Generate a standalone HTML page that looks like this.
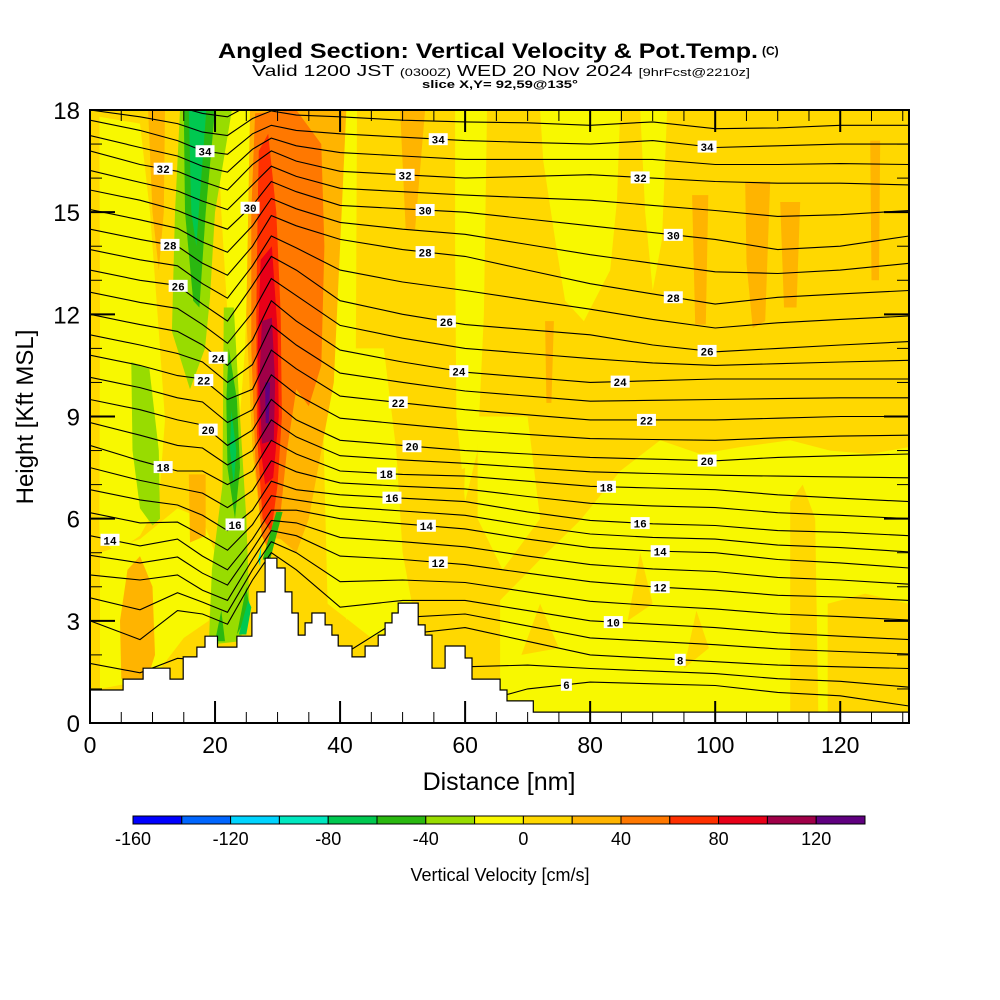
<!DOCTYPE html>
<html><head><meta charset="utf-8"><style>
html,body{margin:0;padding:0;background:#fff;}
svg{display:block;font-family:"Liberation Sans",sans-serif;}
</style></head><body>
<svg id="chart" width="1000" height="1000" viewBox="0 0 1000 1000" xmlns="http://www.w3.org/2000/svg">
<defs><clipPath id="plotclip"><rect x="90" y="110" width="819" height="613"/></clipPath></defs>
<g>
<text x="218" y="58" font-size="21" font-weight="bold" textLength="540" lengthAdjust="spacingAndGlyphs">Angled Section: Vertical Velocity &amp; Pot.Temp.</text>
<text x="762" y="55" font-size="12" font-weight="bold">(C)</text>
<text x="252" y="76" font-size="16" textLength="498" lengthAdjust="spacingAndGlyphs">Valid 1200 JST <tspan font-size="11">(0300Z)</tspan> WED 20 Nov 2024 <tspan font-size="11">[9hrFcst@2210z]</tspan></text>
<text x="422" y="88" font-size="11" font-weight="bold" textLength="156" lengthAdjust="spacingAndGlyphs">slice X,Y= 92,59@135°</text>
</g>
<rect x="90" y="110" width="819" height="613" fill="#ffd800"/>
<g id="field" clip-path="url(#plotclip)"></g>
<g id="contours" clip-path="url(#plotclip)"></g>
<g id="terrain" clip-path="url(#plotclip)"></g>
<g id="clabels" clip-path="url(#plotclip)"></g>
<rect x="90" y="110" width="819" height="613" fill="none" stroke="#000" stroke-width="2"/>
<g id="axes"></g>
<text x="499" y="790" font-size="25" text-anchor="middle">Distance [nm]</text>
<text x="0" y="0" font-size="24" text-anchor="middle" transform="translate(33,417) rotate(-90)">Height [Kft MSL]</text>
<g id="colorbar"></g>
<text x="500" y="881" font-size="18" text-anchor="middle">Vertical Velocity [cm/s]</text>
</svg>
<script>
const NS='http://www.w3.org/2000/svg';
// ---- data ----
const gridDist=[0,8,14,18,22,26,29,33,40,50,60,70,80,90,100,110,120,131];
const thetaLevels=[36,34,32,30,28,26,24,22,20,18,16,14,12,10,8,6];
const theta36=[18.3,18.2,18.1,17.9,17.8,18.2,18.4,18.3,18.3,18.2,18.2,18.2,18.1,18.2,18.0,18.0,18.1,18.1];
const theta34=[17.7,17.4,17.1,16.8,16.7,17.3,17.55,17.4,17.3,17.2,17.1,17.05,17.0,17.1,16.9,16.95,17.0,17.0];
const theta32=[16.8,16.4,16.2,15.9,15.65,16.4,16.8,16.5,16.2,16.1,16.0,16.05,16.1,16.0,15.9,15.85,15.85,15.8];
const theta30=[15.65,15.35,15.05,14.75,14.5,15.2,15.9,15.6,15.2,15.1,15.0,14.8,14.6,14.4,14.2,13.9,14.0,14.3];
const theta28=[14.5,14.2,14.0,13.5,13.15,14.0,14.9,14.6,14.2,13.9,13.7,13.3,12.9,12.6,12.3,12.5,12.6,12.7];
const theta26=[13.3,13.0,12.85,12.3,11.8,12.85,13.7,13.3,12.4,12.0,11.7,11.55,11.4,11.1,10.9,11.0,11.1,11.2];
const theta24=[12.0,11.7,11.5,11.1,10.5,11.25,12.4,11.8,10.95,10.6,10.3,10.15,10.0,10.05,10.1,10.1,10.1,10.1];
const theta22=[10.8,10.5,10.2,10.1,9.5,9.8,10.95,10.4,9.6,9.4,9.2,9.05,8.9,8.9,8.9,8.95,9.0,9.0];
const theta20=[9.5,9.2,8.9,8.75,8.15,8.6,9.5,8.9,8.3,8.15,8.0,7.9,7.8,7.75,7.7,7.8,7.85,7.9];
const theta18=[8.15,7.7,7.4,7.4,7.0,7.4,8.3,7.9,7.4,7.3,7.25,7.1,6.95,6.9,6.85,6.7,6.6,6.5];
const theta16=[6.85,6.55,6.4,6.1,5.65,6.25,7.1,6.85,6.7,6.6,6.5,6.2,5.95,5.85,5.8,5.65,5.6,5.5];
const theta14=[5.5,5.2,5.4,4.9,4.5,5.4,6.25,6.25,6.0,5.85,5.7,5.4,5.15,5.05,5.0,4.8,4.7,4.55];
const theta12=[4.35,4.2,4.35,3.9,3.6,4.8,5.65,5.5,4.9,4.8,4.65,4.4,4.15,4.0,3.9,3.75,3.7,3.6];
const theta10=[3.0,2.45,3.3,3.2,2.9,4.2,5.0,4.5,3.4,3.6,3.6,3.3,3.0,2.9,2.8,2.65,2.55,2.45];
const theta8=[0.5,0.5,0.5,0.5,0.5,0.5,0.5,0.5,0.5,2.6,2.8,2.4,2.0,1.9,1.8,1.7,1.65,1.6];
const theta6=[0.2,0.2,0.2,0.2,0.2,0.2,0.2,0.2,0.2,0.2,0.5,1.0,1.2,1.15,1.1,0.9,0.8,0.5];
const thetaHeights=[theta36,theta34,theta32,theta30,theta28,theta26,theta24,theta22,theta20,theta18,theta16,theta14,theta12,theta10,theta8,theta6];
// contour label placements: [level, distance]
const labelLevels=[34,32,30,28,26,24,22,20,18,16,14,34,32,30,28,26,24,22,20,18,16,14,12,34,32,30,28,26,24,22,20,18,16,14,12,10,8,6];
const labelDists=[18.4,11.7,25.6,12.8,14.1,20.5,18.2,18.9,11.7,23.2,3.2,55.7,50.4,53.6,53.6,57,59,49.3,51.5,47.4,48.3,53.8,55.7,98.7,88,93.3,93.3,98.7,84.8,89,98.7,82.6,88,91.2,91.2,83.7,94.4,76.2];
// terrain: step start distance (nm) and height (kft)
const terrainDist=[0,5.3,8.5,12.8,14.9,17.1,18.4,20.4,23.5,25.9,26.7,28,29.9,31.2,32.3,33.3,34.4,35.5,37.6,38.7,39.7,41.9,44,46.1,47.2,48.3,49.3,52.5,53.6,54.7,56.8,60,61.1,65.6,66.7,70.9];
const terrainHeight=[0.97,1.29,1.61,1.29,1.94,2.23,2.55,2.23,2.55,3.23,3.85,4.84,4.55,3.85,3.23,2.58,2.94,3.23,2.88,2.58,2.26,1.94,2.26,2.58,2.94,3.23,3.52,2.88,2.58,1.61,2.26,1.91,1.29,0.97,0.65,0.32];
// colour scale
const cbarValues=[-160,-140,-120,-100,-80,-60,-40,-20,0,20,40,60,80,100,120,140];
const cbarColors=['#0000ff','#0066ff','#00d4ff','#00e8c0','#00c850','#2ab810','#98dc00','#f8f800','#ffd800','#ffb400','#ff7800','#ff3000','#e80018','#a00048','#600080'];
const cbarTicks=[-160,-120,-80,-40,0,40,80,120];
const xTicks=[0,20,40,60,80,100,120];
const yTicks=[0,3,6,9,12,15,18];
// velocity regions: band index (into cbarColors) and outline in [nm, kft]
const regionBands=[7,7,7,7,7,7,7,7,7,7,8,8,8,8,8,8,9,9,9,9,9,9,9,9,9,9,10,11,12,13,14,6,5,4,6,5,5,5,4,4,5,6,3];
const regionShapes=[
[[65.6,0],[65.6,3.6],[72,4.8],[78.4,5.95],[84.8,7.4],[91.2,8.3],[97.6,7.9],[104,8.1],[112,8.3],[118.4,8.0],[124.8,7.9],[131,8.1],[131,0]],
[[72,18],[84.8,18],[84.3,15.35],[83.2,13.3],[79,11.8],[76,12.4],[74.4,14.2],[72.5,16.5]],
[[58.4,18],[63.5,18],[63,12],[62,8],[60,6.5],[58.6,9],[58.4,14]],
[[88,18],[92.3,18],[91.5,14.2],[90,12.7],[88.8,15]],
[[38.4,18],[42.7,18],[42.5,10],[43,5],[41,3],[39,6],[38,12]],
[[20.3,18],[26,18],[25.3,14],[24.8,11],[24,9],[22.5,9.5],[22,12],[21,15]],
[[1.5,17.8],[8,17.6],[9.6,15],[11,11.5],[12,8.9],[11,6.5],[8,5.5],[4,5],[1.5,5.5],[1.6,12]],
[[1.6,5],[8,5.4],[14,6.3],[18,6.0],[20,5],[19,3],[15,2.5],[10,1.3],[1.6,1]],
[[37,11],[47,11],[49,8],[50,5],[52,3],[45,2.5],[38,3.5]],
[[62,9],[70,9],[72,6],[66,4.5],[62,6]],
[[112,0.3],[112,6.5],[114,7],[116,6],[116.5,0.3]],
[[118,0.3],[118,3.5],[124,3.8],[131,3.5],[131,0.3]],
[[52.8,2],[55,7],[60,7.5],[59,3]],
[[86,3],[88,5],[90,3.5]],
[[69,2],[72,3.5],[75,2.2]],
[[95,1.6],[97,3.3],[99,2.2]],
[[5,1.3],[4.8,3],[6,4.5],[8,4.9],[10,4],[10.4,2],[9,1.2]],
[[9.3,18],[12,18],[11.8,15],[11,13.3],[10,15]],
[[25.6,18],[41,18],[40,14],[39,10],[37,8],[35,6],[33,5],[30.5,5.4],[27.5,5.5],[26,8],[25,12],[25.3,15]],
[[104.8,15.9],[108.8,15.9],[108,11.8],[106,11.6],[105,13.5]],
[[110.4,15.3],[113.6,15.3],[113,12.2],[111,12.2]],
[[124.8,17.1],[126.4,17.1],[126.2,13],[125,13]],
[[96.3,15.5],[98.9,15.5],[98.5,11.7],[96.8,11.7]],
[[72.8,11.8],[74.2,11.8],[73.8,9.4],[73,9.4]],
[[49.6,18],[53.6,18],[52,14.5],[50.5,14.5]],
[[15.8,7.3],[18.5,7.3],[18.5,5.5],[16,5.3]],
[[26.4,17.9],[33,18],[37,17],[37.5,14],[37,10.5],[35,9.3],[33,9.8],[31.5,8],[30.5,6.2],[29,4.9],[27.5,5.5],[26.5,7.5],[25.8,11],[25.8,15]],
[[27,16.8],[28.5,17.3],[29.8,15],[30.5,12],[30.7,9],[30,7],[29,5.6],[27.6,6],[26.7,8.5],[26.6,12],[26.8,15]],
[[27.3,13.6],[29.1,14],[30,11.5],[30.2,9],[29.3,7.2],[28,7],[27,8.5],[26.8,11]],
[[27.5,11.8],[29.1,11.9],[29.6,10],[29.4,8.3],[27.5,8.2],[27.1,10]],
[[28,10],[28.8,10],[28.6,8.8],[28.1,8.8]],
[[14.4,18],[22.7,18],[20,15],[19.2,12.5],[18.4,11],[16,9.8],[13.1,11.5],[13.6,15]],
[[15,18],[20,18],[18.5,15],[17.5,12.2],[16.5,12.4],[15.2,15]],
[[15.8,18],[18.6,18],[17.6,15.5],[17,14],[16.2,15]],
[[21.4,12.2],[23,12.2],[24,9],[25,6],[25.5,3.5],[24,2.4],[19,2.3],[19.5,4.5],[21.2,7],[21.3,10]],
[[22.2,11],[23.5,9.5],[24,7.5],[23.2,6],[22,7.5],[21.8,9.5]],
[[20,2.4],[21,3.3],[21.6,2.4]],
[[23.5,2.6],[25,4],[25.6,3.3]],
[[22.6,9.2],[23.4,8],[23,7],[22.4,8]],
[[23.8,2.6],[25.3,3.6],[25.8,3.4],[25,2.6]],
[[27.6,4.8],[29.8,6.2],[30.8,6.2],[28.8,4.8]],
[[6.6,10.6],[9.5,10.4],[11,8],[11.2,6],[10,5.8],[8,6.3],[6.8,8]],
[[26.9,4.8],[27.4,5.2],[27.2,4.6]]
];
// ---- axes ----
const X0=90,X1=909,Y0=723,Y1=110,DMAX=131,HMAX=18;
function xs(d){return X0+d*(X1-X0)/DMAX;}
function ys(h){return Y0-h*(Y0-Y1)/HMAX;}
function mk(tag,attrs,parent){const e=document.createElementNS(NS,tag);for(const k in attrs)e.setAttribute(k,attrs[k]);parent.appendChild(e);return e;}
// field
const field=document.getElementById('field');
regionShapes.forEach((shape,i)=>{
  const p=mk('polygon',{points:shape.map(q=>xs(q[0]).toFixed(1)+','+ys(q[1]).toFixed(1)).join(' '),fill:cbarColors[regionBands[i]]},field);
  
  
});
// contours (odd levels midway between even levels)
const cg=document.getElementById('contours');
function heightAt(arr,d){for(let i=0;i<gridDist.length-1;i++){if(d<=gridDist[i+1]){const t=(d-gridDist[i])/(gridDist[i+1]-gridDist[i]);return arr[i]+t*(arr[i+1]-arr[i]);}}return arr[arr.length-1];}
function drawLine(arr){
  const pts=gridDist.map((d,i)=>xs(d).toFixed(1)+','+ys(arr[i]).toFixed(1)).join(' ');
  const l=mk('polyline',{points:pts,fill:'none',stroke:'#000','stroke-width':1.1},cg);
  
  
}
thetaHeights.forEach((arr,k)=>{
  drawLine(arr);
  if(k<thetaHeights.length-1){const nxt=thetaHeights[k+1];drawLine(arr.map((v,i)=>(v+nxt[i])/2));}
});
// terrain
const tg=document.getElementById('terrain');
let tp=[[xs(0),ys(0)]];
terrainDist.forEach((d,i)=>{const x0=xs(d);const x1=i<terrainDist.length-1?xs(terrainDist[i+1]):xs(DMAX);tp.push([x0,ys(terrainHeight[i])]);tp.push([x1,ys(terrainHeight[i])]);});
tp.push([xs(DMAX),ys(0)]);
const ter=mk('polygon',{points:tp.map(q=>q[0].toFixed(1)+','+q[1].toFixed(1)).join(' '),fill:'#fff',stroke:'#000','stroke-width':1.2},tg);


// contour labels
const lg=document.getElementById('clabels');
labelLevels.forEach((lv,i)=>{
  const idx=thetaLevels.indexOf(lv);const d=labelDists[i];const h=heightAt(thetaHeights[idx],d);
  const x=xs(d),y=ys(h);const w=lv<10?11:19;
  const r=mk('rect',{x:x-w/2,y:y-6,width:w,height:12,fill:'#fff'},lg);
  
  
  const t=mk('text',{x:x,y:y+4.5,'font-size':11,'text-anchor':'middle','font-family':'Liberation Mono, monospace','font-weight':'bold'},lg);
  t.textContent=lv;
  
  
});
// axes ticks
const ag=document.getElementById('axes');
for(let d=0;d<=130;d+=5){const major=d%20===0;const len=major?22:11;
  const t1=mk('line',{x1:xs(d),x2:xs(d),y1:Y0,y2:Y0-len,stroke:'#000','stroke-width':major?2:1},ag);
  
  const t2=mk('line',{x1:xs(d),x2:xs(d),y1:Y1,y2:Y1+len,stroke:'#000','stroke-width':major?2:1},ag);
  }
for(let h=0;h<=18;h++){const major=h%3===0;const len=major?25:12;
  const t1=mk('line',{x1:X0,x2:X0+len,y1:ys(h),y2:ys(h),stroke:'#000','stroke-width':major?2:1},ag);
  
  const t2=mk('line',{x1:X1,x2:X1-len,y1:ys(h),y2:ys(h),stroke:'#000','stroke-width':major?2:1},ag);
  }
xTicks.forEach(v=>{const t=mk('text',{x:xs(v),y:753,'font-size':23,'text-anchor':'middle'},ag);t.textContent=v;
  });
yTicks.forEach(v=>{const t=mk('text',{x:80,y:ys(v)+9,'font-size':24,'text-anchor':'end'},ag);t.textContent=v;
  });
// colorbar
const cb=document.getElementById('colorbar');
const CB0=133,CBW=48.8;
function cx(v){return CB0+(v-cbarValues[0])/20*CBW;}
cbarColors.forEach((c,i)=>{const r=mk('rect',{x:cx(cbarValues[i]),y:816,width:CBW,height:8,fill:c,stroke:'#000','stroke-width':1},cb);
  });
cbarTicks.forEach(v=>{const t=mk('text',{x:cx(v),y:845,'font-size':18,'text-anchor':'middle'},cb);t.textContent=v;
  });
</script>
</body></html>
